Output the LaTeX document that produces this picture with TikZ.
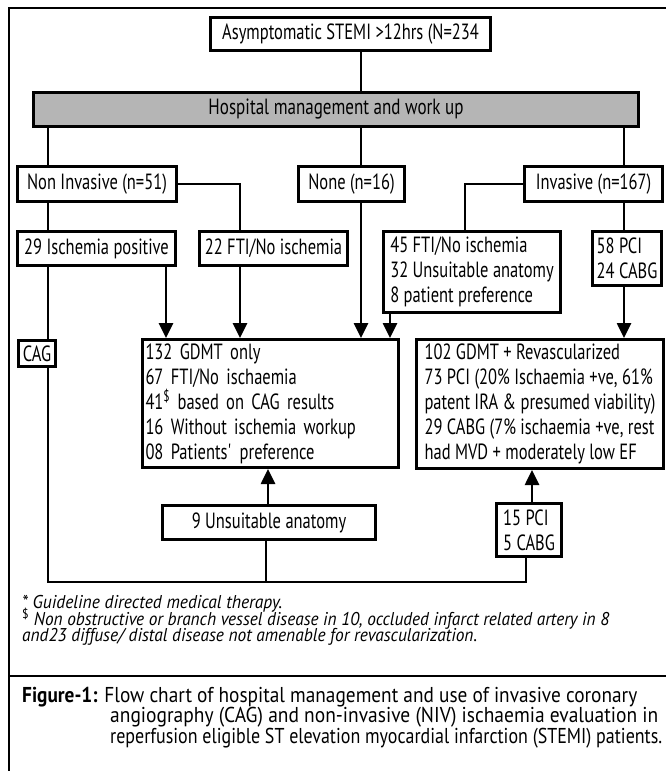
\documentclass[tikz,border=0pt]{standalone}
\usepackage{fontspec}
\setmainfont{PT Sans}[FakeStretch=0.89]
\newfontfamily\boxfont{PT Sans}[FakeStretch=0.75]
\usetikzlibrary{arrows.meta,calc}
\definecolor{hdrgray}{gray}{0.71}
\newcommand\fitw[2]{\resizebox{#1}{\height}{#2}}
\begin{document}
\begin{tikzpicture}[x=1pt,y=-1pt,
  box/.style={draw, line width=3pt, inner xsep=3pt, inner ysep=0pt, align=left,
    font=\boxfont\fontsize{22}{25}\selectfont, anchor=center},
  cbox/.style={box, align=center},
  conn/.style={line width=2pt},
  arr/.style={line width=2.6pt, -{Triangle[width=14pt,length=15pt]}},
  fnote/.style={anchor=base west, inner sep=0pt, font=\fontsize{18.5}{17}\selectfont\itshape},
  capt/.style={anchor=base west, inner sep=0pt, font=\fontsize{21.5}{21}\selectfont},
]
\useasboundingbox (0,0) rectangle (666,771);
% frame
\draw[line width=1.5pt] (9,771) -- (9,8) -- (666,8);
\draw[line width=2.5pt] (9,676) -- (666,676);

% x guide coordinates
\coordinate (x48) at (48,0);
\coordinate (x166) at (166,0);
\coordinate (x240) at (240,0);
\coordinate (x266) at (266,0);
\coordinate (x268) at (268,0);
\coordinate (x361) at (361,0);
\coordinate (x390) at (390,0);
\coordinate (x465) at (465,0);
\coordinate (x526) at (526,0);
\coordinate (x532) at (532,0);
\coordinate (x624) at (624,0);
\coordinate (ybot) at (0,582);

% boxes
\node[cbox, minimum width=280pt, minimum height=33pt] (top) at (350.5,34) {Asymptomatic STEMI >12hrs (N=234};
\node[cbox, fill=hdrgray, minimum width=605pt, minimum height=34pt] (gray) at (336,109.5) {\fitw{255pt}{Hospital management and work up}};
\node[box, minimum width=159pt, minimum height=35pt] (nonInv) at (97,184) {Non Invasive (n=51)};
\node[box, minimum width=106pt, minimum height=35pt] (none) at (351.5,184) {None (n=16)};
\node[box, minimum width=138pt, minimum height=35pt] (inv) at (593.5,184) {Invasive (n=167)};
\node[box, minimum width=158pt, minimum height=34pt] (isch) at (96.5,248.5) {29 Ischemia positive};
\node[box, minimum width=148pt, minimum height=34pt] (fti22) at (273.5,248.5) {22 FTI/No ischemia};
\node[box, minimum width=177pt, minimum height=81pt] (fti45) at (472,272) {45 FTI/No ischemia\\32 Unsuitable anatomy\\8 patient preference};
\node[box, minimum width=69pt, minimum height=54pt] (pci58) at (627,258.5) {58 PCI\\24 CABG};
\node[box, minimum width=37pt, minimum height=26pt] (cag) at (37,353.5) {CAG};
\node[box, text width=250pt, minimum height=128pt] (gdmt132) at (270.5,403.5) {132 GDMT only\\67 FTI/No ischaemia\\41\textsuperscript{\$} based on CAG results\\16 Without ischemia workup\\08 Patients\textquotesingle\ preference};
\node[box, minimum width=247pt, minimum height=129pt] (gdmt102) at (540,404) {102 GDMT + Revascularized\\73 PCI (20\% Ischaemia +ve, 61\%\\patent IRA \& presumed viability)\\29 CABG (7\% ischaemia +ve, rest\\had MVD + moderately low EF};
\node[box, minimum width=213pt, minimum height=34pt] (unsuit9) at (269,522.5) {9 Unsuitable anatomy};
\node[box, minimum width=65pt, minimum height=53pt] (pci15) at (529,530) {15 PCI\\5 CABG};

% connectors
\draw[conn] (top.south -| x361) -- (gray.north -| x361);
\draw[conn] (gray.south -| x48) -- (nonInv.north -| x48);
\draw[conn] (gray.south -| x361) -- (none.north -| x361);
\draw[conn] (gray.south -| x624) -- (inv.north -| x624);
\draw[conn] (nonInv.east) -| (fti22.north -| x240);
\draw[conn] (inv.west) -| (fti45.north -| x465);
\draw[conn] (inv.south -| x624) -- (pci58.north -| x624);
\draw[conn] (nonInv.south -| x48) -- (isch.north -| x48);
\draw[conn] (isch.south -| x48) -- (cag.north -| x48);
\draw[conn] (cag.south -| x48) -- (x48 |- ybot) -| (pci15.south -| x526);
\draw[conn] (unsuit9.south -| x266) -- (x266 |- ybot);

% arrows
\draw[arr] (isch.south -| x166) -- (gdmt132.north -| x166);
\draw[arr] (fti22.south -| x240) -- (gdmt132.north -| x240);
\draw[arr] (none.south -| x361) -- (gdmt132.north -| x361);
\draw[arr] (fti45.south -| x390) -- (gdmt132.north -| x390);
\draw[arr] (pci58.south -| x624) -- (gdmt102.north -| x624);
\draw[arr] (unsuit9.north -| x268) -- (gdmt132.south -| x268);
\draw[arr] (pci15.north -| x532) -- (gdmt102.south -| x532);

% footnotes
\node[fnote] (fn1) at (22,608) {\fitw{260pt}{* Guideline directed medical therapy.}};
\node[fnote] (fn2) at (22,625) {\fitw{587pt}{{\upshape\textsuperscript{\$}} Non obstructive or branch vessel disease in 10, occluded infarct related artery in 8}};
\node[fnote] (fn3) at (22,641) {\fitw{455pt}{and23 diffuse/ distal disease not amenable for revascularization.}};

% caption
\node[capt] (cap1) at (22,702) {\fitw{615pt}{\textbf{Figure-1:} Flow chart of hospital management and use of invasive coronary}};
\node[capt] (cap2) at (110,722) {\fitw{548pt}{angiography (CAG) and non-invasive (NIV) ischaemia evaluation in}};
\node[capt] (cap3) at (110,743) {\fitw{552pt}{reperfusion eligible ST elevation myocardial infarction (STEMI) patients.}};
\end{tikzpicture}
\end{document}
